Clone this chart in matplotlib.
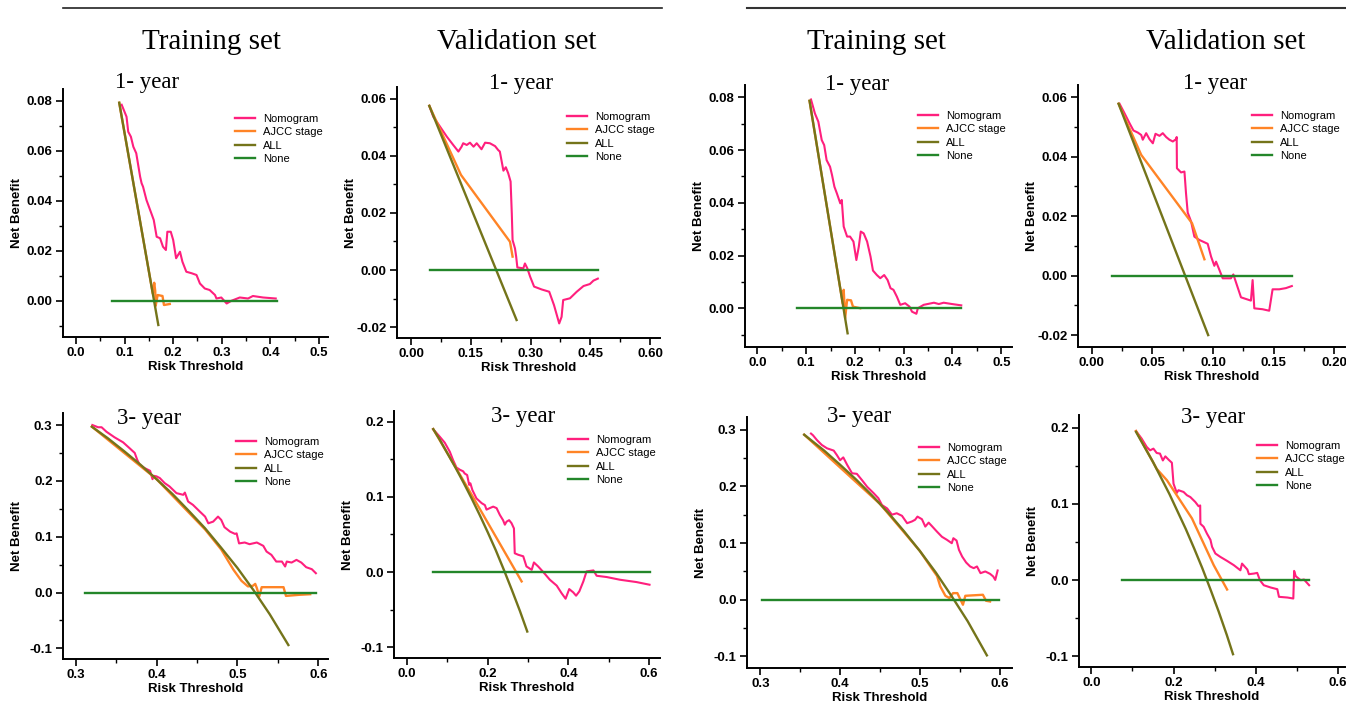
import matplotlib
matplotlib.use("Agg")
import matplotlib.pyplot as plt
import matplotlib.ticker as ticker
from matplotlib.lines import Line2D

## data: (risk threshold, net benefit)
# left group, 1-year
a_tr1_nomo = [(0.094, 0.0784), (0.104, 0.0736), (0.1075, 0.0676), (0.113, 0.0656), (0.118, 0.0616),
              (0.124, 0.059), (0.132, 0.0496), (0.135, 0.0470), (0.138, 0.0456), (0.145, 0.0403),
              (0.155, 0.035), (0.16, 0.0323), (0.166, 0.0256), (0.173, 0.025), (0.179, 0.0216),
              (0.185, 0.0203), (0.188, 0.0276), (0.195, 0.0276), (0.2, 0.0243), (0.206, 0.017),
              (0.214, 0.0196), (0.219, 0.0156), (0.227, 0.0116), (0.238, 0.011), (0.248, 0.0103),
              (0.255, 0.0069), (0.265, 0.0049), (0.275, 0.0043), (0.286, 0.0023), (0.289, 0.0009),
              (0.299, 0.0013), (0.31, -0.0011), (0.32, 0.0), (0.337, 0.0013), (0.354, 0.0009),
              (0.364, 0.0019), (0.385, 0.0013), (0.411, 0.0009)]
a_tr1_ajcc = [(0.089, 0.0792), (0.158, 0.0029), (0.161, 0.0072), (0.163, 0.004), (0.164, -0.002),
              (0.168, 0.0023), (0.178, 0.0019), (0.181, -0.0017), (0.193, -0.0013)]
a_tr1_all = [(0.089, 0.0792), (0.1694, -0.0097)]
a_tr1_none = [(0.075, 0.0), (0.413, 0.0)]

a_va1_nomo = [(0.046, 0.0575), (0.056, 0.0537), (0.073, 0.0502), (0.09, 0.0467), (0.106, 0.0438),
              (0.119, 0.0415), (0.127, 0.0432), (0.131, 0.0444), (0.14, 0.0438), (0.148, 0.0446),
              (0.157, 0.0432), (0.165, 0.0444), (0.177, 0.0423), (0.186, 0.0446), (0.198, 0.0444),
              (0.211, 0.0434), (0.219, 0.042), (0.223, 0.0415), (0.232, 0.0348), (0.238, 0.036),
              (0.244, 0.0339), (0.25, 0.031), (0.253, 0.0199), (0.255, 0.0105), (0.261, 0.0076),
              (0.264, 0.0047), (0.267, 0.0009), (0.282, 0.0006), (0.286, 0.0023), (0.292, 0.0006),
              (0.299, -0.0023), (0.309, -0.0058), (0.328, -0.0068), (0.347, -0.0076), (0.359, -0.0123),
              (0.372, -0.0187), (0.378, -0.0164), (0.382, -0.0105), (0.399, -0.0099), (0.416, -0.0076),
              (0.433, -0.0056), (0.449, -0.0049), (0.458, -0.0037), (0.469, -0.003)]
a_va1_ajcc = [(0.046, 0.0575), (0.1255, 0.0333), (0.2485, 0.0099), (0.255, 0.0047)]
a_va1_all = [(0.046, 0.0575), (0.265, -0.0175)]
a_va1_none = [(0.048, 0.0), (0.470, 0.0)]

# right group, 1-year
b_tr1_nomo = [(0.110, 0.0792), (0.118, 0.0739), (0.125, 0.0708), (0.132, 0.0638), (0.137, 0.0619),
              (0.142, 0.0562), (0.149, 0.0537), (0.153, 0.0506), (0.158, 0.0461), (0.163, 0.0436),
              (0.17, 0.0398), (0.173, 0.0411), (0.177, 0.031), (0.184, 0.0272), (0.19, 0.0272),
              (0.197, 0.0253), (0.203, 0.0183), (0.208, 0.0234), (0.212, 0.0291), (0.218, 0.0284),
              (0.225, 0.0253), (0.232, 0.0196), (0.237, 0.0143), (0.245, 0.0126), (0.252, 0.0114),
              (0.26, 0.0126), (0.267, 0.0107), (0.273, 0.0076), (0.279, 0.007), (0.286, 0.0044),
              (0.293, 0.0013), (0.303, 0.0019), (0.312, 0.0006), (0.317, -0.0013), (0.326, -0.0021),
              (0.329, 0.0), (0.341, 0.0013), (0.362, 0.0021), (0.372, 0.0016), (0.382, 0.0021),
              (0.399, 0.0016), (0.418, 0.0011)]
b_tr1_ajcc = [(0.107, 0.0787), (0.175, 0.0018), (0.177, 0.007), (0.18, -0.0038), (0.184, 0.0032),
              (0.192, 0.003), (0.196, 0.0006), (0.211, 0.0)]
b_tr1_all = [(0.107, 0.0787), (0.185, -0.0095)]
b_tr1_none = [(0.082, 0.0), (0.418, 0.0)]

b_va1_nomo = [(0.0228, 0.0578), (0.0269, 0.0546), (0.031, 0.0513), (0.0343, 0.0488), (0.0379, 0.0481),
              (0.0407, 0.0473), (0.042, 0.0457), (0.0448, 0.0479), (0.0475, 0.0459), (0.0503, 0.0445),
              (0.0525, 0.0477), (0.0558, 0.047), (0.0585, 0.0479), (0.0613, 0.0466), (0.064, 0.0457),
              (0.0668, 0.0451), (0.0695, 0.0459), (0.070, 0.0466), (0.0702, 0.0361), (0.0736, 0.0347),
              (0.0764, 0.035), (0.0777, 0.0277), (0.0791, 0.0212), (0.0819, 0.0182), (0.0846, 0.0131),
              (0.0887, 0.012), (0.0956, 0.0107), (0.0984, 0.0064), (0.1011, 0.0033), (0.1025, 0.0047),
              (0.1047, 0.0025), (0.108, -0.0009), (0.1148, -0.0009), (0.1168, 0.0004), (0.1231, -0.0073),
              (0.1313, -0.0084), (0.1327, -0.0015), (0.1341, -0.011), (0.1409, -0.0113), (0.1464, -0.0118),
              (0.1492, -0.0046), (0.1547, -0.0046), (0.1602, -0.0042), (0.1651, -0.0035)]
b_va1_ajcc = [(0.022, 0.0578), (0.0407, 0.0406), (0.0827, 0.0176), (0.0929, 0.0055)]
b_va1_all = [(0.022, 0.0578), (0.096, -0.020)]
b_va1_none = [(0.0168, 0.0), (0.165, 0.0)]

# left group, 3-year
a_tr3_nomo = [(0.3206, 0.300), (0.3276, 0.296), (0.332, 0.296), (0.338, 0.288), (0.348, 0.278),
              (0.3586, 0.269), (0.367, 0.258), (0.373, 0.25), (0.376, 0.238), (0.379, 0.229),
              (0.385, 0.223), (0.392, 0.218), (0.395, 0.203), (0.3966, 0.209), (0.4, 0.208),
              (0.404, 0.205), (0.41, 0.196), (0.416, 0.19), (0.4246, 0.178), (0.433, 0.175),
              (0.435, 0.179), (0.439, 0.163), (0.445, 0.157), (0.4535, 0.145), (0.46, 0.136),
              (0.464, 0.124), (0.47, 0.127), (0.474, 0.133), (0.476, 0.136), (0.48, 0.130),
              (0.484, 0.117), (0.491, 0.109), (0.497, 0.105), (0.499, 0.106), (0.502, 0.088),
              (0.509, 0.0896), (0.515, 0.0866), (0.524, 0.0896), (0.532, 0.0836), (0.536, 0.0734),
              (0.542, 0.0675), (0.548, 0.0555), (0.555, 0.0555), (0.559, 0.0466), (0.561, 0.0555),
              (0.567, 0.0537), (0.573, 0.0585), (0.579, 0.0537), (0.585, 0.0454), (0.592, 0.0418),
              (0.597, 0.0346)]
a_tr3_ajcc = [(0.32, 0.297), (0.40, 0.203), (0.46, 0.113), (0.48, 0.077), (0.495, 0.041),
              (0.505, 0.021), (0.513, 0.011), (0.519, 0.012), (0.522, 0.0155), (0.524, 0.008),
              (0.527, -0.007), (0.53, 0.0096), (0.557, 0.0096), (0.56, -0.006), (0.577, -0.004),
              (0.59, -0.003)]
a_tr3_all = [(0.32, 0.297), (0.34, 0.276), (0.36, 0.253), (0.38, 0.229), (0.40, 0.203), (0.42, 0.176),
             (0.44, 0.146), (0.46, 0.115), (0.48, 0.080), (0.50, 0.044), (0.52, 0.004), (0.54, -0.039),
             (0.563, -0.094)]
a_tr3_none = [(0.311, 0.0), (0.597, 0.0)]

a_va3_nomo = [(0.0646, 0.19), (0.081, 0.18), (0.0935, 0.172), (0.106, 0.16), (0.114, 0.149),
              (0.1225, 0.139), (0.131, 0.136), (0.139, 0.134), (0.143, 0.131), (0.149, 0.129),
              (0.154, 0.116), (0.157, 0.118), (0.162, 0.109), (0.172, 0.098), (0.185, 0.0916),
              (0.193, 0.089), (0.197, 0.083), (0.205, 0.085), (0.2135, 0.087), (0.222, 0.085),
              (0.23, 0.076), (0.238, 0.069), (0.2425, 0.063), (0.2466, 0.067), (0.253, 0.069),
              (0.259, 0.065), (0.265, 0.058), (0.267, 0.025), (0.2756, 0.023), (0.288, 0.021),
              (0.296, 0.0075), (0.309, 0.003), (0.3145, 0.0128), (0.325, 0.0075), (0.3377, 0.0),
              (0.354, -0.0102), (0.371, -0.018), (0.383, -0.028), (0.393, -0.0354), (0.402, -0.0226),
              (0.412, -0.027), (0.419, -0.0314), (0.427, -0.0257), (0.437, -0.0124), (0.445, 0.0009),
              (0.462, 0.0022), (0.47, -0.0049), (0.495, -0.0066), (0.528, -0.0102), (0.569, -0.0133),
              (0.601, -0.0168)]
a_va3_ajcc = [(0.065, 0.19), (0.147, 0.115), (0.284, -0.0124)]
a_va3_all = [(0.065, 0.19), (0.08, 0.177), (0.10, 0.158), (0.12, 0.139), (0.14, 0.119), (0.16, 0.098),
             (0.18, 0.076), (0.20, 0.053), (0.22, 0.029), (0.24, 0.003), (0.26, -0.024), (0.28, -0.052),
             (0.298, -0.079)]
a_va3_none = [(0.0646, 0.0), (0.601, 0.0)]

# right group, 3-year
b_tr3_nomo = [(0.3635, 0.293), (0.366, 0.29), (0.371, 0.2815), (0.377, 0.273), (0.3836, 0.267),
              (0.392, 0.263), (0.396, 0.255), (0.4, 0.246), (0.404, 0.251), (0.409, 0.2375),
              (0.415, 0.223), (0.421, 0.222), (0.4274, 0.211), (0.434, 0.199), (0.442, 0.188),
              (0.448, 0.179), (0.4525, 0.167), (0.459, 0.161), (0.465, 0.15), (0.471, 0.1525),
              (0.4776, 0.148), (0.484, 0.135), (0.49, 0.138), (0.494, 0.141), (0.497, 0.1466),
              (0.5026, 0.142), (0.5068, 0.129), (0.511, 0.136), (0.515, 0.13), (0.5215, 0.12),
              (0.5277, 0.111), (0.534, 0.1056), (0.54, 0.0997), (0.542, 0.1085), (0.546, 0.1044),
              (0.549, 0.088), (0.553, 0.0762), (0.558, 0.0657), (0.563, 0.0587), (0.5675, 0.0557),
              (0.5716, 0.0587), (0.576, 0.0469), (0.582, 0.0499), (0.588, 0.0457), (0.592, 0.041),
              (0.5945, 0.035), (0.5975, 0.0516)]
b_tr3_ajcc = [(0.355, 0.291), (0.45, 0.169), (0.50, 0.086), (0.515, 0.055), (0.5215, 0.042),
              (0.5256, 0.0235), (0.532, 0.007), (0.537, 0.003), (0.5417, 0.0117), (0.547, 0.0117),
              (0.551, 0.0), (0.554, -0.0088), (0.557, 0.007), (0.579, 0.0088), (0.583, -0.0018),
              (0.588, -0.003)]
b_tr3_all = [(0.355, 0.291), (0.38, 0.263), (0.40, 0.238), (0.42, 0.212), (0.44, 0.184), (0.46, 0.154),
             (0.48, 0.121), (0.50, 0.086), (0.52, 0.048), (0.54, 0.006), (0.56, -0.038), (0.584, -0.098)]
b_tr3_none = [(0.302, 0.0), (0.599, 0.0)]

b_va3_nomo = [(0.1086, 0.1956), (0.1224, 0.1856), (0.1347, 0.1747), (0.1429, 0.1703), (0.151, 0.1725),
              (0.159, 0.1668), (0.167, 0.166), (0.174, 0.157), (0.18, 0.1624), (0.188, 0.158),
              (0.196, 0.154), (0.2, 0.1266), (0.208, 0.1144), (0.212, 0.118), (0.2245, 0.1157),
              (0.2327, 0.1114), (0.241, 0.109), (0.253, 0.1026), (0.261, 0.097), (0.265, 0.098),
              (0.2655, 0.074), (0.2735, 0.07), (0.2816, 0.061), (0.29, 0.053), (0.294, 0.0437),
              (0.302, 0.035), (0.314, 0.0306), (0.3306, 0.0253), (0.347, 0.0197), (0.363, 0.013),
              (0.367, 0.0218), (0.38, 0.014), (0.3837, 0.0079), (0.396, 0.0087), (0.404, 0.0096),
              (0.4106, 0.0), (0.42, -0.0066), (0.437, -0.0096), (0.453, -0.0118), (0.457, -0.0218),
              (0.4775, -0.0227), (0.492, -0.024), (0.494, 0.0122), (0.498, 0.0052), (0.51, 0.0),
              (0.518, 0.0009), (0.5306, -0.0066)]
b_va3_ajcc = [(0.1086, 0.1956), (0.159, 0.146), (0.184, 0.131), (0.245, 0.081), (0.298, 0.0197),
              (0.3306, -0.0122)]
b_va3_all = [(0.1086, 0.1945), (0.13, 0.174), (0.15, 0.155), (0.17, 0.134), (0.19, 0.113), (0.21, 0.090),
             (0.23, 0.067), (0.25, 0.042), (0.27, 0.016), (0.29, -0.012), (0.31, -0.041), (0.33, -0.072),
             (0.345, -0.097)]
b_va3_none = [(0.0735, 0.0), (0.5306, 0.0)]

series_names = ["Nomogram", "AJCC stage", "ALL", "None"]
headings = ["Training set", "Validation set", "Training set", "Validation set"]
panel_titles = ["1- year", "1- year", "1- year", "1- year", "3- year", "3- year", "3- year", "3- year"]

## layout (pixels in a 1346x705 canvas)
W, H = 1346, 705
colors = ["#FF1F7D", "#FF8426", "#74741A", "#23862A"]

panels = [
    # data, (left, top, right, bottom), xlim, ylim, xstep, ystep, xdec, ydec, title xy, legend xy
    ([a_tr1_nomo, a_tr1_ajcc, a_tr1_all, a_tr1_none], (63, 89, 328, 337), (-0.0267, 0.5185), (-0.0145, 0.0847),
     0.1, 0.02, 1, 2, (147, 88), (235, 114)),
    ([a_va1_nomo, a_va1_ajcc, a_va1_all, a_va1_none], (397, 87, 660, 338), (-0.0351, 0.625), (-0.0238, 0.0641),
     0.15, 0.02, 2, 2, (521, 89), (567, 112)),
    ([b_tr1_nomo, b_tr1_ajcc, b_tr1_all, b_tr1_none], (745, 85, 1012, 347), (-0.0253, 0.522), (-0.0147, 0.0847),
     0.1, 0.02, 1, 2, (857, 90), (918, 111)),
    ([b_va1_nomo, b_va1_ajcc, b_va1_all, b_va1_none], (1078, 85, 1345, 347), (-0.0115, 0.209), (-0.024, 0.0641),
     0.05, 0.02, 2, 2, (1215, 89), (1252, 111)),
    ([a_tr3_nomo, a_tr3_ajcc, a_tr3_all, a_tr3_none], (63, 413, 328, 659), (0.2843, 0.612), (-0.119, 0.3215),
     0.1, 0.1, 1, 1, (149, 424), (236, 437)),
    ([a_va3_nomo, a_va3_ajcc, a_va3_all, a_va3_none], (394, 411, 660, 658), (-0.0323, 0.627), (-0.1142, 0.2141),
     0.2, 0.1, 1, 1, (523, 422), (568, 435)),
    ([b_tr3_nomo, b_tr3_ajcc, b_tr3_all, b_tr3_none], (747, 417, 1012, 668), (0.2833, 0.6155), (-0.1203, 0.3222),
     0.1, 0.1, 1, 1, (859, 422), (919, 443)),
    ([b_va3_nomo, b_va3_ajcc, b_va3_all, b_va3_none], (1079, 415, 1345, 667), (-0.0304, 0.618), (-0.1138, 0.2166),
     0.2, 0.1, 1, 1, (1213, 423), (1257, 441)),
]

sans = "Liberation Sans"
serif = "Liberation Serif"

fig = plt.figure(figsize=(W / 100, H / 100), dpi=100)


def fx(px):
    return px / W


def fy(py):
    return 1 - py / H


def make_fmt(dec):
    def f(v, pos):
        if abs(v) < 1e-9:
            v = 0.0
        return f"{v:.{dec}f}"
    return ticker.FuncFormatter(f)


for i, (data, (l, t, r, b), xlim, ylim, xs, ys, xd, yd, txy, lxy) in enumerate(panels):
    ax = fig.add_axes([fx(l), fy(b), fx(r - l), (b - t) / H])
    for pts, c, name in zip(data, colors, series_names):
        xx, yy = zip(*pts)
        lw = 1.5 if name == "Nomogram" else 1.7
        ax.plot(xx, yy, color=c, lw=lw, label=name, solid_joinstyle="round")
    ax.set_xlim(*xlim)
    ax.set_ylim(*ylim)

    for s in ["top", "right"]:
        ax.spines[s].set_visible(False)
    for s in ["left", "bottom"]:
        ax.spines[s].set_linewidth(1.4)

    ax.xaxis.set_major_locator(ticker.MultipleLocator(xs))
    ax.yaxis.set_major_locator(ticker.MultipleLocator(ys))
    ax.xaxis.set_minor_locator(ticker.AutoMinorLocator(2))
    ax.yaxis.set_minor_locator(ticker.AutoMinorLocator(2))
    ax.xaxis.set_major_formatter(make_fmt(xd))
    ax.yaxis.set_major_formatter(make_fmt(yd))
    ax.tick_params(which="major", direction="out", length=5, width=1.2, pad=2.5, labelsize=9.5)
    ax.tick_params(which="minor", direction="out", length=3, width=1.0)
    for lab in ax.get_xticklabels() + ax.get_yticklabels():
        lab.set_fontfamily(sans)
        lab.set_fontweight("bold")

    w_px, h_px = r - l, b - t
    ax.set_xlabel("Risk Threshold", fontsize=9.5, fontweight="bold", family=sans)
    ax.xaxis.set_label_coords(0.5, -24 / h_px)
    ax.set_ylabel("Net Benefit", fontsize=9.5, fontweight="bold", family=sans)
    ax.yaxis.set_label_coords(-40 / w_px, 0.5)

    fig.text(fx(txy[0]), fy(txy[1]), panel_titles[i], ha="center", va="baseline",
             fontsize=16.5, family=serif)

    handles = [Line2D([], [], color=c, lw=1.7) for c in colors]
    ax.legend(handles, series_names, loc="upper left", bbox_to_anchor=(fx(lxy[0]), fy(lxy[1])),
              bbox_transform=fig.transFigure, frameon=False, prop={"family": sans, "size": 8},
              handlelength=1.8, handletextpad=0.7, labelspacing=0.3, borderpad=0, borderaxespad=0)

## column headings and top rules
head_x = [211, 517, 876, 1226]
for hx, txt in zip(head_x, headings):
    fig.text(fx(hx), fy(49), txt, ha="center", va="baseline", fontsize=21, family=serif)

fig.add_artist(Line2D([fx(63), fx(662)], [fy(8), fy(8)], color="#222222", lw=1.2))
fig.add_artist(Line2D([fx(747), fx(1346)], [fy(7.5), fy(7.5)], color="#333333", lw=1.5))

fig.savefig("out.png", dpi=100)
